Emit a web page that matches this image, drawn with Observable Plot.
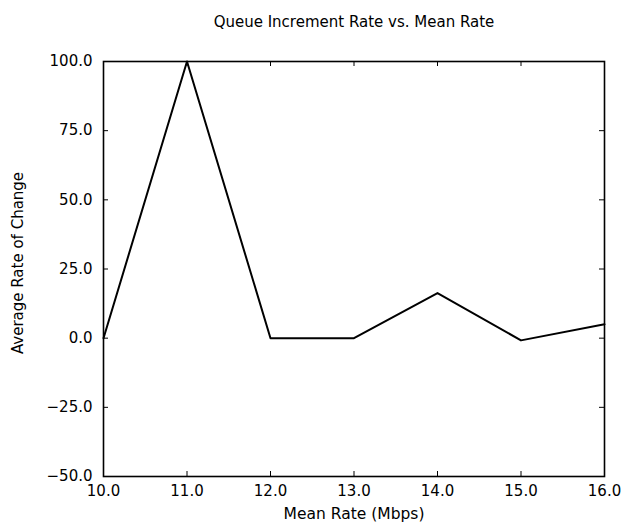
<!DOCTYPE html>
<html>
<head>
<meta charset="utf-8">
<script src="https://cdn.jsdelivr.net/npm/d3@7"></script>
<script src="https://cdn.jsdelivr.net/npm/@observablehq/plot@0.6"></script>
<style>
  html, body { margin: 0; padding: 0; background: #fff; }
  #chart svg { display: block; }
</style>
</head>
<body>
<div id="chart"></div>
<script>
const title = "Queue Increment Rate vs. Mean Rate";
const xLabel = "Mean Rate (Mbps)";
const yLabel = "Average Rate of Change";
const meanRate = [10, 11, 12, 13, 14, 15, 16];
const rateOfChange = [0, 100, 0, 0, 16.3, -0.8, 5.0];
const xTicks = [10, 11, 12, 13, 14, 15, 16];
const yTicks = [-50, -25, 0, 25, 50, 75, 100];

const data = meanRate.map((x, i) => ({x, y: rateOfChange[i]}));
const fmt = d3.format(".1f");
const font = "DejaVu Sans, Verdana, sans-serif";

const W = 628, H = 526, mL = 103, mR = 24, mT = 61, mB = 50;
const plotW = W - mL - mR, plotH = H - mT - mB, tk = 5;

const chart = Plot.plot({
  width: W,
  height: H,
  marginLeft: mL,
  marginRight: mR,
  marginTop: mT,
  marginBottom: mB,
  style: {fontFamily: font, fontSize: "15px", color: "#000", background: "#fff"},
  x: {domain: [10, 16]},
  y: {domain: [-50, 100]},
  marks: [
    Plot.frame({stroke: "#000", strokeWidth: 1.6}),
    Plot.axisX({anchor: "bottom", ticks: xTicks, tickFormat: fmt, tickSize: 0, tickPadding: 9, label: null, fontSize: 15}),
    Plot.axisY({anchor: "left", ticks: yTicks, tickFormat: fmt, tickSize: 0, tickPadding: 11, label: null, fontSize: 15}),
    Plot.tickX(xTicks, {x: d => d, insetTop: plotH - tk, stroke: "#000"}),
    Plot.tickX(xTicks, {x: d => d, insetBottom: plotH - tk, stroke: "#000"}),
    Plot.tickY(yTicks, {y: d => d, insetRight: plotW - tk, stroke: "#000"}),
    Plot.tickY(yTicks, {y: d => d, insetLeft: plotW - tk, stroke: "#000"}),
    Plot.line(data, {x: "x", y: "y", stroke: "#000", strokeWidth: 2}),
    Plot.text([title], {frameAnchor: "top", lineAnchor: "middle", dy: -39, fontSize: 15, fill: "#000"}),
    Plot.text([xLabel], {frameAnchor: "bottom", lineAnchor: "middle", dy: 38, fontSize: 15.5, fill: "#000"}),
    Plot.text([yLabel], {frameAnchor: "left", textAnchor: "middle", lineAnchor: "middle", dx: -85, dy: -6, rotate: -90, fontSize: 15, fill: "#000"})
  ]
});
document.getElementById("chart").appendChild(chart);
</script>
</body>
</html>
